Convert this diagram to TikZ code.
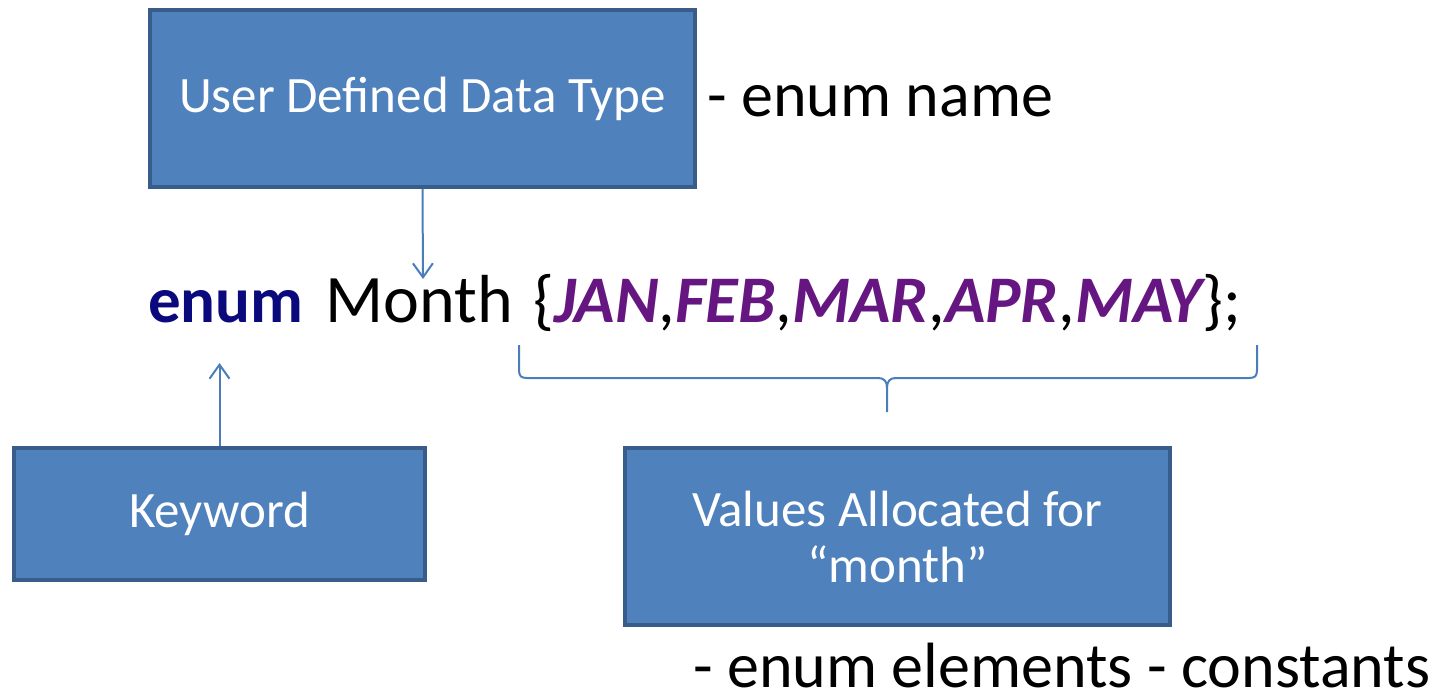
\documentclass[tikz,border=0pt]{standalone}
\usepackage{fontspec}
\setmainfont{Carlito}
\usetikzlibrary{arrows.meta}
\definecolor{boxfill}{RGB}{79,129,189}
\definecolor{boxline}{RGB}{56,93,138}
\definecolor{linkblue}{RGB}{74,126,187}
\definecolor{kwnavy}{RGB}{10,10,125}
\definecolor{valpurple}{RGB}{102,22,128}
\tikzset{
  infobox/.style={draw=boxline, fill=boxfill, line width=4pt, text=white,
    inner sep=0pt, align=center, font=\fontsize{51}{56}\selectfont},
  link/.style={draw=linkblue, line width=2pt,
    -{Straight Barb[length=14pt,width=20pt,line width=2pt]}},
  codetext/.style={inner sep=0pt, anchor=base west, font=\fontsize{68}{80}\selectfont},
  note/.style={inner sep=0pt, anchor=base west, font=\fontsize{64}{72}\selectfont}
}
\newcommand{\enumval}[1]{\textcolor{valpurple}{\bfseries\itshape #1}}
\begin{document}
\begin{tikzpicture}[x=1pt,y=-1pt]
\useasboundingbox (0,0) rectangle (1444,698);

% boxes
\node[infobox, minimum width=545pt, minimum height=177pt] (udt) at (422.5,98.5) {User Defined Data Type};
\node[infobox, minimum width=411pt, minimum height=132pt] (kw) at (219.5,514) {Keyword};
\node[infobox, minimum width=545pt, minimum height=177pt] (vals) at (897.5,536.5) {Values Allocated for\\``month''};

% side notes
\node[note] (nname) at (707,117) {- enum name};
\node[note] (nelem) at (693,687) {- enum elements - constants};

% the declaration
\node[codetext, text=kwnavy, font=\fontsize{65}{80}\selectfont\bfseries] (ekw) at (148,322) {enum};
\node[codetext] (emonth) at (325,322) {Month};
\node[codetext, font=\fontsize{66.6}{80}\selectfont] (elist) at (533,322) {\{\enumval{JAN},\enumval{FEB},\enumval{MAR},\enumval{APR},\enumval{MAY}\};};

% connectors
\coordinate (udtend) at (423,279);
\coordinate (kwend) at (219.5,363);
\draw[link] (udt.south) -- (udtend);
\draw[link] (kw.north) -- (kwend);

% brace under the value list
\coordinate (bl) at (519,345);
\coordinate (br) at (1257,345);
\coordinate (btip) at (887,412);
\draw[linkblue, line width=2pt, line join=round]
  (bl) -- (519,370) .. controls (519,376) and (521,378) .. (527,378)
  -- (878,378) .. controls (884,378) and (887,381) .. (887,388) -- (btip)
  (887,388) .. controls (887,381) and (890,378) .. (896,378)
  -- (1249,378) .. controls (1255,378) and (1257,376) .. (1257,370) -- (br);
\end{tikzpicture}
\end{document}
